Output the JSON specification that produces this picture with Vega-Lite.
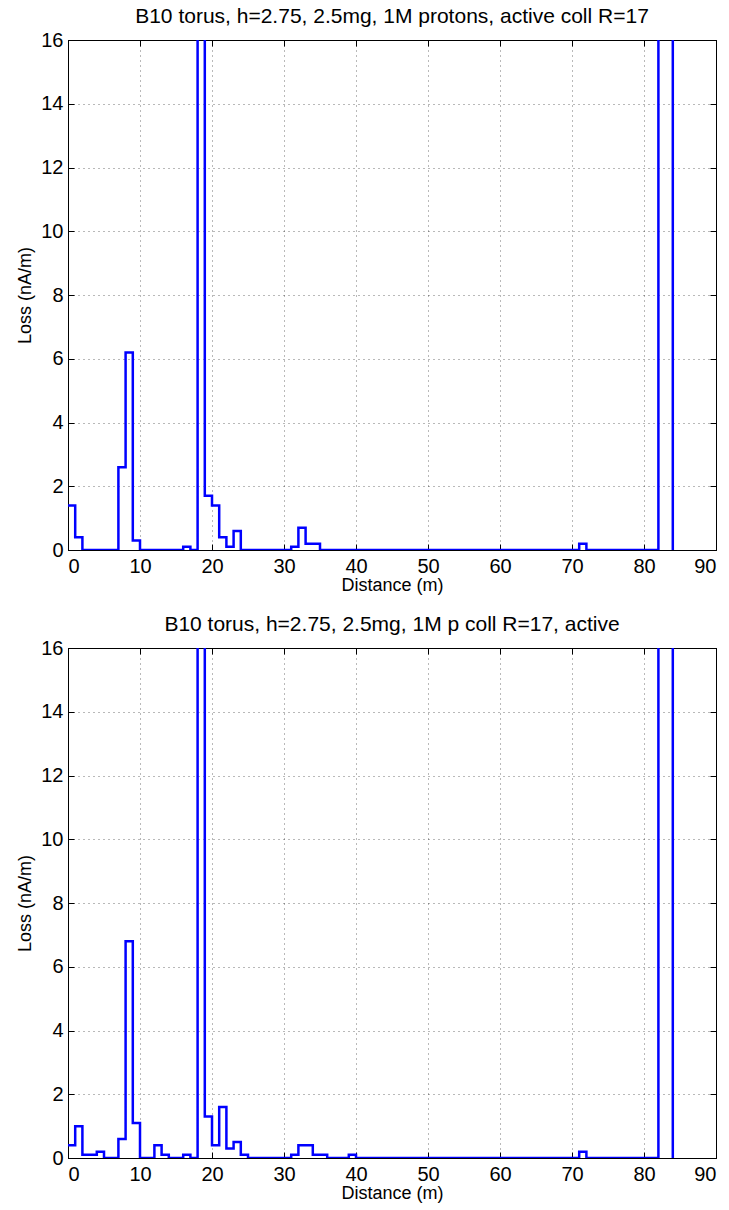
{
  "$schema": "https://vega.github.io/schema/vega-lite/v6.json",
  "padding": {"left": 16, "top": 5, "right": 5, "bottom": 5},
  "spacing": 18,
  "datasets": {
    "top": [
      {"d":0,"v":1.4},{"d":1,"v":0.4},{"d":2,"v":0},{"d":3,"v":0},{"d":4,"v":0},{"d":5,"v":0},{"d":6,"v":0},{"d":7,"v":2.6},{"d":8,"v":6.2},{"d":9,"v":0.3},
      {"d":10,"v":0},{"d":11,"v":0},{"d":12,"v":0},{"d":13,"v":0},{"d":14,"v":0},{"d":15,"v":0},{"d":16,"v":0.1},{"d":17,"v":0},{"d":18,"v":40},{"d":19,"v":1.7},
      {"d":20,"v":1.4},{"d":21,"v":0.4},{"d":22,"v":0.1},{"d":23,"v":0.6},{"d":24,"v":0},{"d":25,"v":0},{"d":26,"v":0},{"d":27,"v":0},{"d":28,"v":0},{"d":29,"v":0},
      {"d":30,"v":0},{"d":31,"v":0.1},{"d":32,"v":0.7},{"d":33,"v":0.2},{"d":34,"v":0.2},{"d":35,"v":0},{"d":36,"v":0},{"d":37,"v":0},{"d":38,"v":0},{"d":39,"v":0},
      {"d":40,"v":0},{"d":41,"v":0},{"d":42,"v":0},{"d":43,"v":0},{"d":44,"v":0},{"d":45,"v":0},{"d":46,"v":0},{"d":47,"v":0},{"d":48,"v":0},{"d":49,"v":0},
      {"d":50,"v":0},{"d":51,"v":0},{"d":52,"v":0},{"d":53,"v":0},{"d":54,"v":0},{"d":55,"v":0},{"d":56,"v":0},{"d":57,"v":0},{"d":58,"v":0},{"d":59,"v":0},
      {"d":60,"v":0},{"d":61,"v":0},{"d":62,"v":0},{"d":63,"v":0},{"d":64,"v":0},{"d":65,"v":0},{"d":66,"v":0},{"d":67,"v":0},{"d":68,"v":0},{"d":69,"v":0},
      {"d":70,"v":0},{"d":71,"v":0.2},{"d":72,"v":0},{"d":73,"v":0},{"d":74,"v":0},{"d":75,"v":0},{"d":76,"v":0},{"d":77,"v":0},{"d":78,"v":0},{"d":79,"v":0},
      {"d":80,"v":0},{"d":81,"v":0},{"d":82,"v":40},{"d":83,"v":40},{"d":84,"v":0}
    ],
    "bottom": [
      {"d":0,"v":0.4},{"d":1,"v":1.0},{"d":2,"v":0.1},{"d":3,"v":0.1},{"d":4,"v":0.2},{"d":5,"v":0},{"d":6,"v":0},{"d":7,"v":0.6},{"d":8,"v":6.8},{"d":9,"v":1.1},
      {"d":10,"v":0},{"d":11,"v":0},{"d":12,"v":0.4},{"d":13,"v":0.1},{"d":14,"v":0},{"d":15,"v":0},{"d":16,"v":0.1},{"d":17,"v":0},{"d":18,"v":40},{"d":19,"v":1.3},
      {"d":20,"v":0.4},{"d":21,"v":1.6},{"d":22,"v":0.3},{"d":23,"v":0.5},{"d":24,"v":0.1},{"d":25,"v":0},{"d":26,"v":0},{"d":27,"v":0},{"d":28,"v":0},{"d":29,"v":0},
      {"d":30,"v":0},{"d":31,"v":0.1},{"d":32,"v":0.4},{"d":33,"v":0.4},{"d":34,"v":0.1},{"d":35,"v":0.1},{"d":36,"v":0},{"d":37,"v":0},{"d":38,"v":0},{"d":39,"v":0.1},
      {"d":40,"v":0},{"d":41,"v":0},{"d":42,"v":0},{"d":43,"v":0},{"d":44,"v":0},{"d":45,"v":0},{"d":46,"v":0},{"d":47,"v":0},{"d":48,"v":0},{"d":49,"v":0},
      {"d":50,"v":0},{"d":51,"v":0},{"d":52,"v":0},{"d":53,"v":0},{"d":54,"v":0},{"d":55,"v":0},{"d":56,"v":0},{"d":57,"v":0},{"d":58,"v":0},{"d":59,"v":0},
      {"d":60,"v":0},{"d":61,"v":0},{"d":62,"v":0},{"d":63,"v":0},{"d":64,"v":0},{"d":65,"v":0},{"d":66,"v":0},{"d":67,"v":0},{"d":68,"v":0},{"d":69,"v":0},
      {"d":70,"v":0},{"d":71,"v":0.2},{"d":72,"v":0},{"d":73,"v":0},{"d":74,"v":0},{"d":75,"v":0},{"d":76,"v":0},{"d":77,"v":0},{"d":78,"v":0},{"d":79,"v":0},
      {"d":80,"v":0},{"d":81,"v":0},{"d":82,"v":40},{"d":83,"v":40},{"d":84,"v":0}
    ]
  },
  "config": {
    "font": "Liberation Sans",
    "view": {"stroke": "#000000", "strokeWidth": 1},
    "title": {"font": "Liberation Sans", "fontSize": 21, "fontWeight": "normal", "color": "#000000", "anchor": "middle", "frame": "group", "offset": 3},
    "axis": {
      "labelFont": "Liberation Sans", "labelFontSize": 20, "labelColor": "#000000",
      "titleFont": "Liberation Sans", "titleFontSize": 18, "titleFontWeight": "normal", "titleColor": "#000000",
      "domainColor": "#000000", "tickColor": "#000000", "tickSize": -6,
      "gridColor": "#000000", "gridDash": [1, 4], "gridWidth": 1, "gridOpacity": 0.55
    }
  },
  "vconcat": [
    {
      "title": "B10 torus, h=2.75, 2.5mg, 1M protons, active coll R=17",
      "width": 648, "height": 510,
      "data": {"name": "top"},
      "layer": [
        {
          "mark": {"type": "line", "interpolate": "step-after", "color": "#0000ff", "strokeWidth": 2.5, "clip": true},
          "encoding": {
            "x": {"field": "d", "type": "quantitative", "scale": {"domain": [0, 90], "nice": false}, "axis": {"orient": "bottom", "values": [0,10,20,30,40,50,60,70,80,90], "title": "Distance (m)", "labelPadding": 12.5, "titlePadding": 0, "grid": true}},
            "y": {"field": "v", "type": "quantitative", "scale": {"domain": [0, 16], "nice": false}, "axis": {"orient": "left", "values": [0,2,4,6,8,10,12,14,16], "title": "Loss (nA/m)", "labelPadding": 11, "titlePadding": 6, "grid": true}}
          }
        },
        {
          "mark": {"type": "line", "interpolate": "step-after", "strokeOpacity": 0, "clip": true},
          "encoding": {
            "x": {"field": "d", "type": "quantitative", "axis": {"orient": "top", "values": [0,10,20,30,40,50,60,70,80,90], "labels": false, "title": null, "grid": false}},
            "y": {"field": "v", "type": "quantitative", "axis": {"orient": "right", "values": [0,2,4,6,8,10,12,14,16], "labels": false, "title": null, "grid": false}}
          }
        }
      ],
      "resolve": {"axis": {"x": "independent", "y": "independent"}}
    },
    {
      "title": "B10 torus, h=2.75, 2.5mg, 1M p coll R=17, active",
      "width": 648, "height": 510,
      "data": {"name": "bottom"},
      "layer": [
        {
          "mark": {"type": "line", "interpolate": "step-after", "color": "#0000ff", "strokeWidth": 2.5, "clip": true},
          "encoding": {
            "x": {"field": "d", "type": "quantitative", "scale": {"domain": [0, 90], "nice": false}, "axis": {"orient": "bottom", "values": [0,10,20,30,40,50,60,70,80,90], "title": "Distance (m)", "labelPadding": 12.5, "titlePadding": 0, "grid": true}},
            "y": {"field": "v", "type": "quantitative", "scale": {"domain": [0, 16], "nice": false}, "axis": {"orient": "left", "values": [0,2,4,6,8,10,12,14,16], "title": "Loss (nA/m)", "labelPadding": 11, "titlePadding": 6, "grid": true}}
          }
        },
        {
          "mark": {"type": "line", "interpolate": "step-after", "strokeOpacity": 0, "clip": true},
          "encoding": {
            "x": {"field": "d", "type": "quantitative", "axis": {"orient": "top", "values": [0,10,20,30,40,50,60,70,80,90], "labels": false, "title": null, "grid": false}},
            "y": {"field": "v", "type": "quantitative", "axis": {"orient": "right", "values": [0,2,4,6,8,10,12,14,16], "labels": false, "title": null, "grid": false}}
          }
        }
      ],
      "resolve": {"axis": {"x": "independent", "y": "independent"}}
    }
  ]
}
